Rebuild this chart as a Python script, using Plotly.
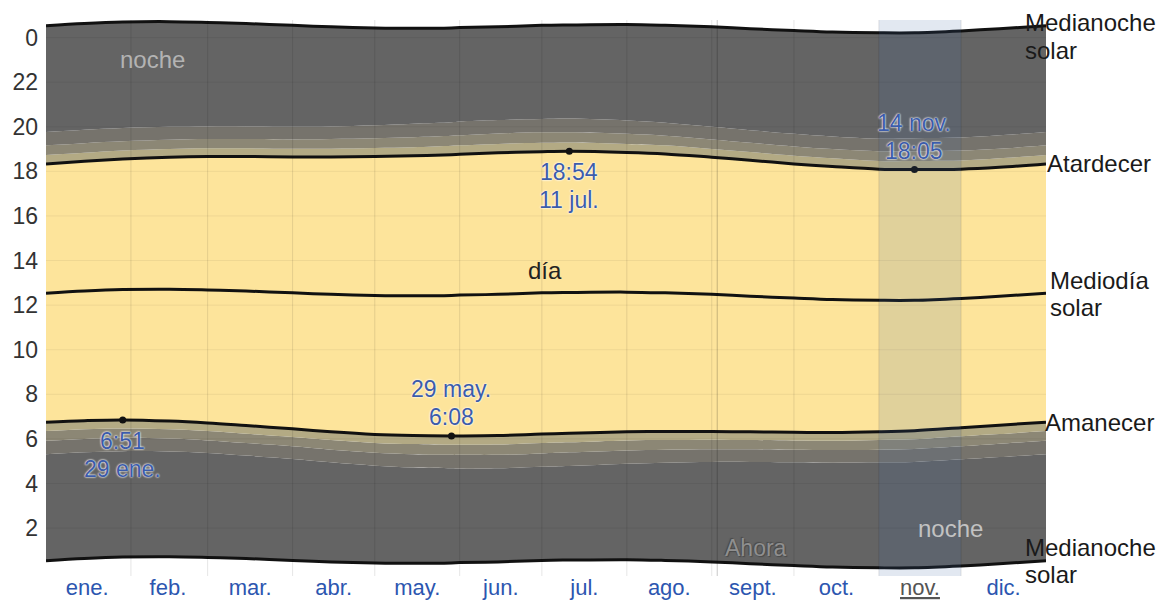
import plotly.graph_objects as go

# ---------------- data ----------------
dates = ["2023-01-01", "2023-01-15", "2023-01-29", "2023-02-15", "2023-03-01", "2023-03-15",
         "2023-04-01", "2023-04-15", "2023-05-01", "2023-05-15", "2023-05-29", "2023-06-01",
         "2023-06-15", "2023-07-01", "2023-07-11", "2023-08-01", "2023-08-15", "2023-09-01",
         "2023-09-15", "2023-10-01", "2023-10-15", "2023-11-01", "2023-11-14", "2023-12-01",
         "2023-12-15", "2024-01-01"]

sunrise = ["6:45", "6:49", "6:51", "6:48", "6:43", "6:36", "6:27", "6:19", "6:12", "6:09", "6:08", "6:08",
           "6:09", "6:13", "6:15", "6:19", "6:20", "6:20", "6:19", "6:18", "6:17", "6:19", "6:22", "6:30",
           "6:37", "6:45"]
sunset = ["18:20", "18:27", "18:33", "18:38", "18:40", "18:40", "18:39", "18:39", "18:40", "18:42", "18:45",
          "18:46", "18:50", "18:53", "18:54", "18:51", "18:47", "18:38", "18:30", "18:20", "18:13", "18:06",
          "18:05", "18:06", "18:11", "18:20"]
solar_noon = ["12:32", "12:38", "12:42", "12:43", "12:41", "12:38", "12:33", "12:29", "12:26", "12:25",
              "12:26", "12:27", "12:29", "12:33", "12:34", "12:35", "12:33", "12:29", "12:24", "12:19",
              "12:15", "12:13", "12:13", "12:18", "12:24", "12:32"]
solar_midnight = ["0:32", "0:38", "0:42", "0:43", "0:41", "0:38", "0:33", "0:29", "0:26", "0:25",
                  "0:26", "0:27", "0:29", "0:33", "0:34", "0:35", "0:33", "0:29", "0:24", "0:19",
                  "0:15", "0:13", "0:13", "0:18", "0:24", "0:32"]
# twilight band widths after sunset / before sunrise (minutes), as drawn
civil_min = [24, 23, 23, 22, 22, 22, 22, 22, 23, 23, 24, 24, 24, 24, 24, 23, 23, 22, 22, 22, 22, 22, 23, 23, 24, 24]
nautical_min = [50, 49, 48, 47, 47, 47, 47, 48, 49, 50, 51, 51, 52, 52, 51, 50, 49, 48, 47, 47, 47, 48, 49, 50, 50, 50]
astro_min = [86, 85, 84, 82, 81, 81, 81, 82, 84, 86, 87, 88, 88, 88, 88, 86, 84, 82, 81, 81, 81, 82, 84, 85, 86, 86]

month_starts = ["2023-02-01", "2023-03-01", "2023-04-01", "2023-05-01", "2023-06-01", "2023-07-01",
                "2023-08-01", "2023-09-01", "2023-10-01", "2023-11-01", "2023-12-01"]
month_mid = ["2023-01-16", "2023-02-14 12:00", "2023-03-16 12:00", "2023-04-16", "2023-05-16 12:00",
             "2023-06-16", "2023-07-16 12:00", "2023-08-16 12:00", "2023-09-16", "2023-10-16 12:00",
             "2023-11-16", "2023-12-16 12:00"]
month_labels = ["ene.", "feb.", "mar.", "abr.", "may.", "jun.", "jul.", "ago.", "sept.", "oct.", "nov.", "dic."]
current_month = "nov."
hour_ticks = [2, 4, 6, 8, 10, 12, 14, 16, 18, 20, 22, 24]
hour_labels = ["2", "4", "6", "8", "10", "12", "14", "16", "18", "20", "22", "0"]
now_date = "2023-09-03"

# labelled extremes: (date, time, date label, labels above the point?)
extremes = [
    ("2023-01-29", "6:51", "29 ene.", False),
    ("2023-05-29", "6:08", "29 may.", True),
    ("2023-07-11", "18:54", "11 jul.", False),
    ("2023-11-14", "18:05", "14 nov.", True),
]

# ---------------- helpers ----------------
def hrs(s):
    h, m = s.split(":")
    return int(h) + int(m) / 60.0

rise = [hrs(s) for s in sunrise]
sett = [hrs(s) for s in sunset]
noon = [hrs(s) for s in solar_noon]
mid_bot = [hrs(s) for s in solar_midnight]
mid_top = [v + 24 for v in mid_bot]

dawn_civil = [r - c / 60 for r, c in zip(rise, civil_min)]
dawn_naut = [r - c / 60 for r, c in zip(rise, nautical_min)]
dawn_astro = [r - c / 60 for r, c in zip(rise, astro_min)]
dusk_civil = [s + c / 60 for s, c in zip(sett, civil_min)]
dusk_naut = [s + c / 60 for s, c in zip(sett, nautical_min)]
dusk_astro = [s + c / 60 for s, c in zip(sett, astro_min)]

NIGHT = "#646464"
ASTRO = "#76736c"
NAUT = "#8c8775"
CIVIL = "#b3aa84"
DAY = "#fde49b"

FONT = "Liberation Sans, Arial, sans-serif"

fig = go.Figure()

bands = [
    (mid_bot, None),
    (dawn_astro, NIGHT),
    (dawn_naut, ASTRO),
    (dawn_civil, NAUT),
    (rise, CIVIL),
    (sett, DAY),
    (dusk_civil, CIVIL),
    (dusk_naut, NAUT),
    (dusk_astro, ASTRO),
    (mid_top, NIGHT),
]
for ys, col in bands:
    fig.add_trace(go.Scatter(
        x=dates, y=ys, mode="lines",
        line=dict(width=0, shape="spline", color="rgba(0,0,0,0)"),
        fill=None if col is None else "tonexty",
        fillcolor=col, hoverinfo="skip"))

for ys in (mid_bot, rise, noon, sett, mid_top):
    fig.add_trace(go.Scatter(
        x=dates, y=ys, mode="lines",
        line=dict(width=3, shape="spline", color="#111111"), hoverinfo="skip"))

fig.add_trace(go.Scatter(
    x=[e[0] for e in extremes], y=[hrs(e[1]) for e in extremes], mode="markers",
    marker=dict(size=7, color="#111111"), hoverinfo="skip"))

shapes = []
for d in month_starts:
    shapes.append(dict(type="line", xref="x", yref="paper", x0=d, x1=d, y0=0, y1=1,
                       line=dict(color="rgba(0,0,0,0.10)", width=1), layer="above"))
for h in hour_ticks:
    shapes.append(dict(type="line", xref="paper", yref="y", x0=0, x1=1, y0=h, y1=h,
                       line=dict(color="rgba(0,0,0,0.06)", width=1), layer="above"))
shapes.append(dict(type="line", xref="x", yref="paper", x0=now_date, x1=now_date, y0=0, y1=1,
                   line=dict(color="rgba(0,0,0,0.22)", width=1), layer="above"))
shapes.append(dict(type="rect", xref="x", yref="paper", x0="2023-11-01", x1="2023-12-01", y0=0, y1=1,
                   fillcolor="rgba(60,100,160,0.15)", line=dict(width=0), layer="above"))

halo = "0px 0px 2px #ffffff, 0px 0px 2px #ffffff"
ann_font = dict(family=FONT, size=23, color="#3c5caa", shadow=halo)
annotations = []
for d, v, dl, above in extremes:
    if above:
        lines = [(dl, 47), (v, 19)]
    else:
        lines = [(v, -21), (dl, -49)]
    for t, ys in lines:
        annotations.append(dict(x=d, y=hrs(v), xref="x", yref="y", text=t, showarrow=False,
                                yanchor="middle", yshift=ys, font=ann_font))

annotations += [
    dict(x="2023-02-09", y=23.0, text="noche", showarrow=False,
         font=dict(family=FONT, size=24, color="#b3b3b3")),
    dict(x="2023-11-27", y=2.0, text="noche", showarrow=False,
         font=dict(family=FONT, size=24, color="#c2c2c2")),
    dict(x="2023-07-02", y=13.57, text="día", showarrow=False,
         font=dict(family=FONT, size=24, color="#222222")),
    dict(x="2023-09-17", y=1.1, text="Ahora", showarrow=False,
         font=dict(family=FONT, size=23, color="#8f8f8f",
                   shadow="1px 1px 1px #4a4a4a, -1px -1px 1px #4a4a4a")),
]

right_font = dict(family=FONT, size=24, color="#1a1a1a")
def right_label(x, y, text, yshift=0):
    return dict(x=x, xref="paper", y=y, yref="y", yshift=yshift, text=text, showarrow=False,
                xanchor="left", yanchor="middle", align="left", font=right_font)

annotations += [
    right_label(0.977, mid_top[-1], "Medianoche", 3),
    right_label(0.977, mid_top[-1], "solar", -25),
    right_label(0.999, sett[-1], "Atardecer"),
    right_label(1.002, noon[-1], "Mediodía", 13),
    right_label(1.002, noon[-1], "solar", -14),
    right_label(0.997, rise[-1], "Amanecer"),
    right_label(0.977, mid_bot[-1], "Medianoche", 13),
    right_label(0.977, mid_bot[-1], "solar", -14),
]

tick_text = []
for m in month_labels:
    if m == current_month:
        tick_text.append("<span style='color:#555555;text-decoration:underline'>" + m + "</span>")
    else:
        tick_text.append(m)

# the page body adds an 8px margin at top/left, so the figure is sized/placed to compensate
fig.update_layout(
    width=1162, height=594,
    margin=dict(l=38, r=124, t=12, b=26, autoexpand=False),
    plot_bgcolor="white", paper_bgcolor="white",
    showlegend=False, hovermode=False,
    font=dict(family=FONT),
    shapes=shapes, annotations=annotations,
    xaxis=dict(type="date", range=["2023-01-01", "2024-01-01"],
               tickvals=month_mid, ticktext=tick_text, automargin=False,
               showgrid=False, zeroline=False, showline=False, ticks="",
               tickfont=dict(family=FONT, size=22, color="#2c56b0"),
               ticklabelstandoff=-4, fixedrange=True),
    yaxis=dict(range=[-0.15, 24.79], tickvals=hour_ticks, ticktext=hour_labels, automargin=False,
               showgrid=False, zeroline=False, showline=False, ticks="",
               tickfont=dict(family=FONT, size=23, color="#333333"),
               ticklabelstandoff=7, fixedrange=True),
)

fig.write_html("out.html")
